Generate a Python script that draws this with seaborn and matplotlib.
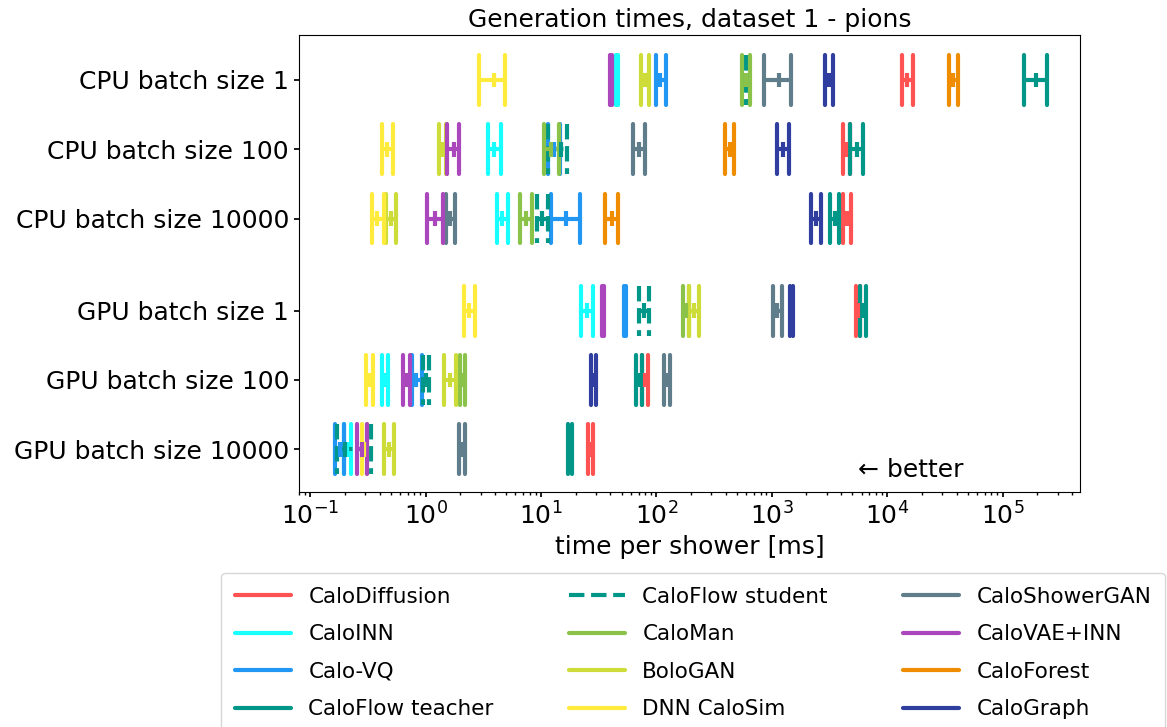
import numpy as np
import pandas as pd
import matplotlib
matplotlib.use("Agg")
import matplotlib.pyplot as plt
import seaborn as sns

# rows of the chart (top to bottom) and their vertical positions
row_labels = ["CPU batch size 1", "CPU batch size 100", "CPU batch size 10000",
              "GPU batch size 1", "GPU batch size 100", "GPU batch size 10000"]
row_pos = [0, 1, 2, 3.33, 4.33, 5.33]

models = ["CaloDiffusion", "CaloINN", "Calo-VQ", "CaloFlow teacher", "CaloFlow student",
          "CaloMan", "BoloGAN", "DNN CaloSim", "CaloShowerGAN", "CaloVAE+INN",
          "CaloForest", "CaloGraph"]
colors = ["#FF5252", "#18FFFF", "#2196F3", "#009688", "#009688",
          "#8BC34A", "#CDDC39", "#FFEB3B", "#607D8B", "#AB47BC",
          "#EF8C00", "#303F9F"]
styles = ["-", "-", "-", "-", "--", "-", "-", "-", "-", "-", "-", "-"]

# (min, typical, max) time per shower in ms, one entry per row; None = not measured
calodiffusion = [(13420, 14930, 16680), (4110, 4370, 4750), (4160, 4520, 4910),
                 (5350, 5600, 5870), (75, 79, 84), (25.8, 27.1, 28.5)]
caloinn = [(44.5, 45.6, 46.7), (3.46, 3.95, 4.50), (4.13, 4.6, 5.14),
           (22.0, 24.9, 28.2), (0.416, 0.445, 0.475), (0.197, 0.21, 0.225)]
calovq = [(98.4, 108, 120), (11.5, 12.9, 14.5), (12.3, 16.6, 21.6),
          (52.5, 53.5, 54.5), (0.755, 0.833, 0.933), (0.164, 0.18, 0.197)]
caloflow_teacher = [(154000, 194500, 242000), (4750, 5430, 6180), (3193, 3510, 3840),
                    (5800, 6200, 6620), (66.5, 70.5, 75), (17.2, 17.9, 18.6)]
caloflow_student = [(595, 603, 612), (11.6, 15.0, 16.9), (9.15, 10.2, 11.5),
                    (71, 77.6, 85.7), (0.946, 1.0, 1.08), (0.169, 0.2, 0.333)]
caloman = [(557, 600, 653), (10.6, 12.3, 14.4), (6.57, 7.4, 8.28),
           (171.6, 181, 192), (2.0, 2.1, 2.2), None]
bologan = [(73.5, 79.6, 86), (1.30, 1.39, 1.50), (0.45, 0.5, 0.55),
           (190, 211, 234), (1.435, 1.62, 1.83), (0.436, 0.48, 0.532)]
dnn_calosim = [(2.93, 3.9, 4.85), (0.422, 0.466, 0.521), (0.346, 0.38, 0.436),
               (2.13, 2.38, 2.66), (0.303, 0.33, 0.353), (0.28, 0.295, 0.31)]
caloshowergan = [(857, 1148, 1465), (62.4, 71, 80), (1.50, 1.64, 1.79),
                 (1024, 1120, 1224), (117, 124, 131), (1.95, 2.07, 2.2)]
calovae_inn = [(39.5, 40.5, 41.5), (1.54, 1.76, 1.93), (1.03, 1.21, 1.41),
               (33.5, 34.4, 35.5), (0.64, 0.68, 0.73), (0.253, 0.28, 0.309)]
caloforest = [(34600, 37400, 41100), (397, 435, 475), (36, 41.1, 46.9),
              None, None, None]
calograph = [(2911, 3130, 3410), (1109, 1260, 1424), (2178, 2420, 2687),
             (1430, 1480, 1530), (27.2, 28.5, 30.1), None]

times = [calodiffusion, caloinn, calovq, caloflow_teacher, caloflow_student, caloman,
         bologan, dnn_calosim, caloshowergan, calovae_inn, caloforest, calograph]

sns.set_theme(style="ticks", rc={
    "axes.edgecolor": "black",
    "axes.linewidth": 0.8,
    "axes.labelcolor": "black",
    "text.color": "black",
    "xtick.color": "black",
    "ytick.color": "black",
    "xtick.major.size": 3.5,
    "xtick.minor.size": 2,
    "ytick.major.size": 3.5,
    "xtick.direction": "out",
    "ytick.direction": "out",
})
plt.rcParams["font.family"] = ["DejaVu Sans"]
plt.rcParams["font.size"] = 18

fig = plt.figure(figsize=(11.67, 7.27), dpi=100)
ax = fig.add_axes([0.256, 0.323, 0.6694, 0.629])

cap_half = 0.36
lw = 3

centers = []
for name, color, ls, vals in zip(models, colors, styles, times):
    first = True
    for y, v in zip(row_pos, vals):
        if v is None:
            continue
        lo, mid, hi = v
        ax.plot([lo, hi], [y, y], color=color, ls=ls, lw=lw,
                label=name if first else None)
        ax.plot([lo, lo], [y - cap_half, y + cap_half], color=color, ls=ls, lw=lw)
        ax.plot([hi, hi], [y - cap_half, y + cap_half], color=color, ls=ls, lw=lw)
        centers.append({"model": name, "time": mid, "row": y})
        first = False

df = pd.DataFrame(centers)
sns.scatterplot(data=df, x="time", y="row", hue="model", palette=dict(zip(models, colors)),
                marker="|", s=110, linewidth=3, legend=False, zorder=3, ax=ax)

ax.set_xscale("log")
ax.set_xlim(0.0795, 4.69e5)
ax.set_ylim(5.95, -0.65)
ax.set_yticks(row_pos)
ax.set_yticklabels(row_labels)
ax.tick_params(axis="both", labelsize=18)
ax.set_xlabel("time per shower [ms]", fontsize=18)
ax.set_ylabel("")
ax.set_title("Generation times, dataset 1 - pions", fontsize=18)
ax.text(0.716, 0.048, "\u2190 better", transform=ax.transAxes, fontsize=18,
        ha="left", va="center")

ax.legend(loc="upper center", bbox_to_anchor=(0.505, -0.153), ncol=3, fontsize=15.5,
          handlelength=2.6, labelspacing=0.81, columnspacing=3.5, borderpad=0.65,
          frameon=True)

fig.savefig("out.png", dpi=100)
